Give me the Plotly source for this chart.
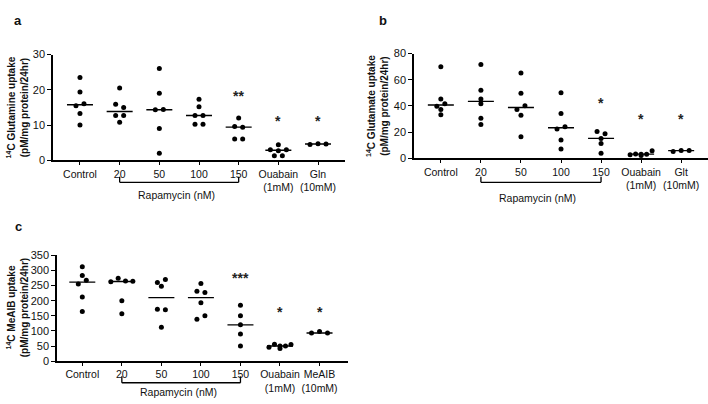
import numpy as np
import plotly.graph_objects as go

W, H = 708, 404

# ---------------- data ----------------
labels_a = ["Control", "20", "50", "100", "150", "Ouabain<br>(1mM)", "Gln<br>(10mM)"]
labels_b = ["Control", "20", "50", "100", "150", "Ouabain<br>(1mM)", "Glt<br>(10mM)"]
labels_c = ["Control", "20", "50", "100", "150", "Ouabain<br>(1mM)", "MeAIB<br>(10mM)"]

glutamine = [
    [23.5, 19.4, 15.5, 16.0, 13.3, 10.0],
    [20.5, 15.9, 15.0, 12.7, 12.7, 10.8],
    [26.0, 19.0, 14.3, 14.4, 9.0, 2.0],
    [17.3, 15.2, 12.7, 12.7, 10.2, 10.2],
    [12.0, 9.6, 9.4, 6.0, 6.0],
    [4.4, 3.0, 2.7, 3.0, 1.3, 1.3],
    [4.5, 4.7, 4.6],
]
glutamate = [
    [69.9, 45.2, 39.7, 41.7, 37.3, 33.3],
    [71.6, 52.0, 45.2, 41.7, 30.6, 25.9],
    [65.2, 49.6, 37.3, 40.2, 32.8, 16.5],
    [50.1, 34.3, 22.4, 24.2, 14.0, 7.2],
    [20.5, 18.8, 15.2, 11.4, 3.9],
    [2.7, 3.3, 3.2, 3.2, 5.8, 2.2],
    [5.2, 5.9, 5.9],
]
meaib = [
    [312, 283, 255, 268, 212, 164],
    [263, 274, 265, 264, 200, 157],
    [260, 270, 248, 172, 170, 112],
    [257, 231, 227, 193, 139, 150],
    [185, 150, 120, 90, 50],
    [46, 56, 50, 50, 55, 42],
    [93, 98, 93],
]

sig_a = ["", "", "", "", "**", "*", "*"]
sig_b = ["", "", "", "", "*", "*", "*"]
sig_c = ["", "", "", "", "***", "*", "*"]
sig_y_a = [None, None, None, None, 18.7, 11.8, 11.8]
sig_y_b = [None, None, None, None, 43.7, 31.9, 31.9]
sig_y_c = [None, None, None, None, 282.0, 170.0, 170.0]

yticks_a = [0, 10, 20, 30]
yticks_b = [0, 20, 40, 60, 80]
yticks_c = [0, 50, 100, 150, 200, 250, 300, 350]

# ---------------- layout geometry ----------------
def pxp(y):
    return 1 - y / H

panels = [
    dict(name="a", data=glutamine, labels=labels_a, sig=sig_a, sigy=sig_y_a, yt=yticks_a,
         xdom=[53 / W, 345 / W], xr=[-0.68, 6.68], ydom=[pxp(159), pxp(50)],
         title="<b><sup>14</sup>C Glutamine uptake<br>(pM/mg protein/24hr)</b>", tx=17,
         br_y=181.7, br_top=176, rap_y=195, lab=(18, 15)),
    dict(name="b", data=glutamate, labels=labels_b, sig=sig_b, sigy=sig_y_b, yt=yticks_b,
         xdom=[414 / W, 708 / W], xr=[-0.67, 6.67], ydom=[pxp(157), pxp(49)],
         title="<b><sup>14</sup>C Glutamate uptake<br>(pM/mg protein/24hr)</b>", tx=378,
         br_y=181.7, br_top=176, rap_y=198, lab=(383, 15)),
    dict(name="c", data=meaib, labels=labels_c, sig=sig_c, sigy=sig_y_c, yt=yticks_c,
         xdom=[57 / W, 348 / W], xr=[-0.64, 6.72], ydom=[pxp(366), pxp(257)],
         title="<b><sup>14</sup>C MeAIB uptake<br>(pM/mg protein/24hr)</b>", tx=17,
         br_y=388.3, br_top=381.7, rap_y=398, lab=(18, 227)),
]


def spread(vals, ppu, thr=4.2, gap=8.0, maxw=22.0):
    order = sorted(range(len(vals)), key=lambda i: -vals[i])
    rows = []
    for i in order:
        if rows and (vals[rows[-1][0]] - vals[i]) * ppu <= thr:
            rows[-1].append(i)
        else:
            rows.append([i])
    off = [0.0] * len(vals)
    for r in rows:
        r = sorted(r)
        n = len(r)
        sp = gap if n <= 3 else maxw / (n - 1)
        for k, i in enumerate(r):
            off[i] = (k - (n - 1) / 2) * sp
    return off


fig = go.Figure()
FONT = "Liberation Sans, Arial, sans-serif"
TXT = "#111111"
layout = dict(width=W, height=H, margin=dict(l=0, r=0, t=0, b=0),
              paper_bgcolor="white", plot_bgcolor="white", showlegend=False,
              font=dict(family=FONT, color=TXT))
annotations = []
shapes = []

for idx, p in enumerate(panels):
    sfx = "" if idx == 0 else str(idx + 1)
    xa, ya = "x" + sfx, "y" + sfx
    ymax = p["yt"][-1]
    ppu = (p["ydom"][1] - p["ydom"][0]) * H / ymax
    ppc = (p["xdom"][1] - p["xdom"][0]) * W / (p["xr"][1] - p["xr"][0])
    xs, ys = [], []
    for ci, vals in enumerate(p["data"]):
        off = spread(vals, ppu)
        xs += [ci + o / ppc for o in off]
        ys += list(vals)
        med = float(np.median(vals))
        hw = 13 / ppc
        fig.add_trace(go.Scatter(x=[ci - hw, ci + hw], y=[med, med], mode="lines",
                                 line=dict(color="black", width=1.4), xaxis=xa, yaxis=ya,
                                 hoverinfo="skip"))
        if p["sig"][ci]:
            annotations.append(dict(x=ci, y=p["sigy"][ci], xref=xa, yref=ya,
                                    text="<b>%s</b>" % p["sig"][ci],
                                    showarrow=False, font=dict(size=14, color="#222222", family=FONT),
                                    yanchor="middle", yshift=-2))
    fig.add_trace(go.Scatter(x=xs, y=ys, mode="markers",
                             marker=dict(color="black", size=5), xaxis=xa, yaxis=ya,
                             cliponaxis=False))
    layout["xaxis" + sfx] = dict(domain=p["xdom"], range=p["xr"], anchor=ya,
                                 tickvals=list(range(len(p["labels"]))), ticktext=p["labels"],
                                 tickangle=0,
                                 showline=True, linecolor="black", linewidth=1.5,
                                 ticks="outside", ticklen=3, tickwidth=1.3, tickcolor="black",
                                 showgrid=False, zeroline=False,
                                 tickfont=dict(size=10.5, color=TXT, family=FONT))
    layout["yaxis" + sfx] = dict(domain=p["ydom"], range=[0, ymax], anchor=xa,
                                 tickvals=p["yt"], showline=True, linecolor="black", linewidth=1.5,
                                 ticks="outside", ticklen=4, tickwidth=1.3, tickcolor="black",
                                 showgrid=False, zeroline=False,
                                 tickfont=dict(size=11, color=TXT, family=FONT))
    annotations.append(dict(x=p["tx"] / W, y=(p["ydom"][0] + p["ydom"][1]) / 2, xref="paper",
                            yref="paper", text=p["title"], textangle=-90, showarrow=False,
                            font=dict(size=10, color=TXT, family=FONT),
                            xanchor="center", yanchor="middle"))
    annotations.append(dict(x=p["lab"][0] / W, y=pxp(p["lab"][1]), xref="paper", yref="paper",
                            text="<b>%s</b>" % p["name"], showarrow=False,
                            font=dict(size=13, color=TXT, family=FONT),
                            xanchor="center", yanchor="middle"))
    for (x0, y0, x1, y1) in [(1, p["br_top"], 1, p["br_y"]), (4, p["br_top"], 4, p["br_y"]),
                             (1, p["br_y"], 4, p["br_y"])]:
        shapes.append(dict(type="line", xref=xa, yref="paper", x0=x0, x1=x1,
                           y0=pxp(y0), y1=pxp(y1), line=dict(color="black", width=1.3)))
    annotations.append(dict(x=2.5, y=pxp(p["rap_y"]), xref=xa, yref="paper",
                            text="Rapamycin (nM)", showarrow=False, xshift=-3,
                            font=dict(size=10.5, color=TXT, family=FONT),
                            xanchor="center", yanchor="middle"))

layout["annotations"] = annotations
layout["shapes"] = shapes
fig.update_layout(**layout)
fig.write_html("out.html", config={"displayModeBar": False},
               post_script="document.body.style.margin='0';")
